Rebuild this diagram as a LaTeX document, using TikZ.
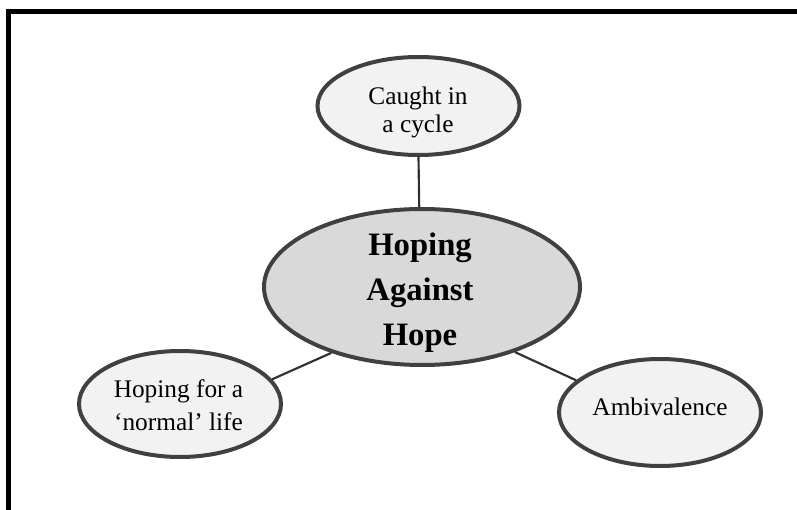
\documentclass[tikz,border=0pt]{standalone}
\usepackage{fontspec}
\setmainfont{Liberation Serif}
\usetikzlibrary{shapes.geometric}

\definecolor{rim}{HTML}{404040}
\definecolor{lightfill}{HTML}{F2F2F2}
\definecolor{hubfill}{HTML}{D9D9D9}
\definecolor{wire}{HTML}{303030}

\tikzset{
  bubble/.style={ellipse, draw=rim, line width=3pt, fill=lightfill, inner sep=0pt},
  hub/.style={bubble, fill=hubfill},
  caption/.style={inner sep=0pt, align=center, text=black},
  link/.style={draw=wire, line width=1.6pt},
  frame/.style={line width=3.75pt, line join=miter, black}
}

\begin{document}
\begin{tikzpicture}[x=0.75pt, y=-0.75pt]
  \useasboundingbox (0,0) rectangle (797,510);

  % open frame: left and top edges
  \draw[frame] (8.5,510) -- (8.5,11.5) -- (797,11.5);

  % ellipses
  \node[hub, minimum width=316*0.75pt, minimum height=156*0.75pt] (hope) at (422,287) {};
  \node[bubble, minimum width=202*0.75pt, minimum height=98*0.75pt] (cycle) at (418.5,106) {};
  \node[bubble, minimum width=202*0.75pt, minimum height=106*0.75pt] (normal) at (180,404) {};
  \node[bubble, minimum width=202*0.75pt, minimum height=107*0.75pt] (ambi) at (660,412.5) {};

  % connectors
  \draw[link] (cycle.south) -- (hope.92.5);
  \draw[link] (hope.216) -- (normal.15);
  \draw[link] (hope.325.6) -- (ambi.159);

  % texts
  \node[caption, font=\bfseries\fontsize{24.5}{33.75}\selectfont] (hopetext) at (420,292.5) {Hoping\\Against\\Hope};
  \node[caption, font=\fontsize{19}{21}\selectfont] (cycletext) at (418,112) {Caught in\\a cycle};
  \node[caption, font=\fontsize{19}{24.75}\selectfont] (normaltext) at (178.5,405) {Hoping for a\\`normal' life};
  \node[caption, font=\fontsize{19}{21}\selectfont] (ambitext) at (660,406.5) {Ambivalence};
\end{tikzpicture}
\end{document}
